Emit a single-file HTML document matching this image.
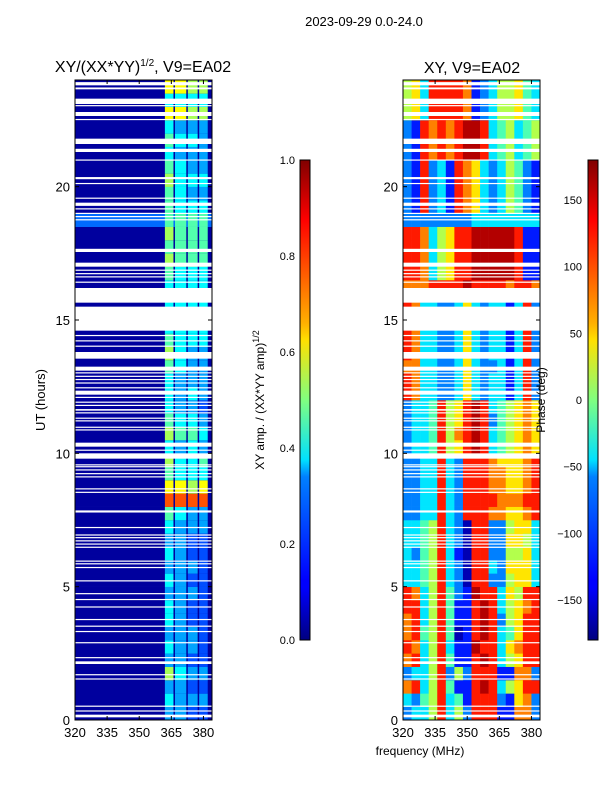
<!DOCTYPE html>
<html><head><meta charset="utf-8"><style>
html,body{margin:0;padding:0;background:#fff;}
svg text{font-family:"Liberation Sans",sans-serif;fill:#000;}
</style></head><body>
<svg id="fig" width="600" height="800" xmlns="http://www.w3.org/2000/svg">
<defs>
<linearGradient id="jetg" x1="0" y1="1" x2="0" y2="0">
<stop offset="0" stop-color="#000080"/><stop offset="0.11" stop-color="#0000ff"/><stop offset="0.125" stop-color="#0000ff"/>
<stop offset="0.34" stop-color="#0080ff"/><stop offset="0.375" stop-color="#00e0ff"/><stop offset="0.5" stop-color="#80ff80"/>
<stop offset="0.625" stop-color="#ffe000"/><stop offset="0.66" stop-color="#ffb000"/><stop offset="0.875" stop-color="#ff0000"/><stop offset="1" stop-color="#800000"/>
</linearGradient>
</defs>
<text x="364" y="26" font-size="13" text-anchor="middle">2023-09-29 0.0-24.0</text>
<text x="143" y="72" font-size="16" text-anchor="middle">XY/(XX*YY)<tspan font-size="10" dy="-6">1/2</tspan><tspan dy="6">, V9=EA02</tspan></text>
<text x="472" y="73" font-size="16" text-anchor="middle">XY, V9=EA02</text>
<g id="left"></g>
<g id="right"></g>
<g id="frames"></g>
<text transform="translate(45,400) rotate(-90)" font-size="13" text-anchor="middle">UT (hours)</text>
<text x="420" y="755" font-size="12" text-anchor="middle">frequency (MHz)</text>
<rect x="300" y="160" width="10" height="480" fill="url(#jetg)" stroke="#000" stroke-width="1"/>
<rect x="588" y="160" width="10" height="480" fill="url(#jetg)" stroke="#000" stroke-width="1"/>
<text transform="translate(264,400) rotate(-90)" font-size="12" text-anchor="middle">XY amp. / (XX*YY amp)<tspan font-size="9" dy="-5">1/2</tspan></text>
<text transform="translate(545,400) rotate(-90)" font-size="12" text-anchor="middle">Phase (deg)</text>
</svg>
<script>
const NS="http://www.w3.org/2000/svg";
// ---- data ----
const freqMin=320, freqMax=384, tMin=0, tMax=24, rowHours=0.5;
const xTicks=[320,335,350,365,380];
const yTicks=[0,5,10,15,20];
const ampTicks=[0.0,0.2,0.4,0.6,0.8,1.0];
const phaseTicks=[-150,-100,-50,0,50,100,150];
const stripeEdges=[[362,366],[366.7,372],[372.7,377.3],[378,382]];
const ampBg=[0,0,0,0,0,0,0,0,0,0,0,0,0,0,0,0,0,0,0,0,0,0,0,0,0,0,0,0,0,0,0,0,0,0,0,0,0,2,0,0,0,0,0,0,0,0,0,0];
const ampRows=["3322","4333","3322","6433","3322","4332","3332","4322","4322","3332","4322","3332","4322","3322","4333","5433","9999","7767","5444","6445","4343","6554","5443","4332","4343","4333","5433","6433","5444","4444","4444","4444","4444","5444","6555","5555","6555","5555","5444","5433","6444","5433","4333","5443","4333","7766","4444","7766"];
const phaseRows=[
"2335835288811772","3245834188821672","7835841189835688","2335825288811772",
"7835841189835688","8735831198836788","7845840189834688","7835841189825688",
"8835841189835678","8735842198836588","3345832088225663","3345832088326663",
"3245831088225563","3345832088226653","3345832088225663","2233832888776678",
"2233832888877788","2233832888776678","2233832888776678","2233832888766678",
"2334856898345676","2334857898345676","2334856898245676","2334856898345676",
"8733223632331382","8733223632331382","7733223632231382","8733223632331382",
"8733223632331382","8733223632331382","8733223632331382","8733223632331382",
"7778888988887887","8873568899999811","8873568899999811","8873568899999811",
"8873568899999811","2222222233333333","2182318763235421","2182318763235421",
"2182318763235421","2182318763235421","2187878998345345","2187878998345345",
"2187878998345345","5638888712355643","5638888712355643","5638888712355643"];
const blanks=[[23.8,23.92],[23.65,23.72],[23.1,23.3],[23.02,23.06],[22.65,22.8],[22.5,22.54],[21.6,21.8],[21.3,21.42],[20.98,21.02],[20.28,20.36],[20.1,20.14],[19.55,19.59],[19.28,19.4],[19.15,19.19],[18.98,19.02],[18.86,18.9],[18.74,18.78],[17.55,17.67],[17.0,17.15],[16.85,16.89],[16.72,16.76],[16.6,16.64],[16.4,16.44],[15.65,16.2],[14.6,15.5],[14.4,14.44],[14.2,14.24],[14.0,14.04],[13.55,13.8],[13.1,13.25],[13.0,13.04],[12.87,12.91],[12.75,12.79],[12.62,12.66],[12.44,12.48],[12.2,12.35],[12.08,12.12],[11.9,11.94],[11.78,11.82],[11.6,11.66],[11.5,11.54],[11.3,11.34],[11.2,11.24],[10.96,11.0],[10.86,10.9],[10.25,10.4],[10.1,10.14],[9.8,10.0],[9.55,9.59],[9.48,9.52],[9.36,9.4],[9.22,9.26],[9.1,9.14],[8.65,8.69],[8.52,8.56],[7.78,7.86],[7.2,7.24],[6.92,6.96],[6.82,6.86],[6.7,6.74],[6.58,6.62],[6.46,6.5],[5.94,5.98],[5.84,5.88],[5.7,5.74],[5.2,5.24],[4.72,4.76],[4.5,4.54],[4.22,4.26],[3.75,3.79],[3.5,3.54],[3.3,3.34],[2.88,2.92],[2.32,2.36],[2.1,2.2],[1.68,1.72],[1.52,1.56],[0.5,0.54],[0.32,0.36],[0.1,0.2]];
// ---- geometry ----
const yTop=80,yBot=720;
const panels={left:75,right:403}, pw=137;
const yOf=t=>yBot-(t-tMin)/(tMax-tMin)*(yBot-yTop);
const xOf=(x0,f)=>x0+(f-freqMin)/(freqMax-freqMin)*pw;
function jet(v){const c=a=>Math.round(255*Math.max(0,Math.min(1,a)));
 return `rgb(${c(1.5-Math.abs(4*v-3))},${c(1.5-Math.abs(4*v-2))},${c(1.5-Math.abs(4*v-1))})`;}
function mk(tag,attrs,parent){const e=document.createElementNS(NS,tag);for(const k in attrs)e.setAttribute(k,attrs[k]);parent.appendChild(e);return e;}
const L=document.getElementById('left'), R=document.getElementById('right'), F=document.getElementById('frames');
ampRows.forEach((row,i)=>{
 const t0=i*rowHours,y1=yOf(t0+rowHours),h=yOf(t0)-y1;
 let r=mk('rect',{x:panels.left,y:y1,width:pw,height:h+0.3,fill:jet(0.03+ampBg[i]*0.1)},L);
 
 
 stripeEdges.forEach((se,j)=>{
  const x1=xOf(panels.left,se[0]),x2=xOf(panels.left,se[1]);
  let s=mk('rect',{x:x1,y:y1,width:x2-x1,height:h+0.3,fill:jet(0.03+(+row[j])*0.085)},L);
  
  
 });
});
const ncol=16, colW=(freqMax-freqMin)/ncol;
phaseRows.forEach((row,i)=>{
 const t0=i*rowHours,y1=yOf(t0+rowHours),h=yOf(t0)-y1;
 for(let j=0;j<ncol;j++){
  const x1=xOf(panels.right,freqMin+j*colW),x2=xOf(panels.right,freqMin+(j+1)*colW);
  let c=mk('rect',{x:x1,y:y1,width:x2-x1+0.3,height:h+0.3,fill:jet(((+row[j])+0.5)/10)},R);
  
  
 }
});
[[L,panels.left],[R,panels.right]].forEach(([g,x0])=>{
 blanks.forEach(b=>{
  const y1=yOf(b[1]),y2=yOf(b[0]);
  let w=mk('rect',{x:x0,y:y1,width:pw,height:Math.max(1.2,y2-y1),fill:'#fff'},g);
  
  
 });
});
[['left',panels.left],['right',panels.right]].forEach(([nm,x0])=>{
 let fr=mk('rect',{x:x0,y:yTop,width:pw,height:yBot-yTop,fill:'none',stroke:'#000','stroke-width':1},F);
 
 
 xTicks.forEach(f=>{
  const x=xOf(x0,f);
  mk('line',{x1:x,x2:x,y1:yBot,y2:yBot-4,stroke:'#000'},F);
  mk('line',{x1:x,x2:x,y1:yTop,y2:yTop+4,stroke:'#000'},F);
  let t=mk('text',{x:x,y:yBot+17,'font-size':13,'text-anchor':'middle'},F);
  t.textContent=f;
  
  
 });
 yTicks.forEach(v=>{
  const y=yOf(v);
  mk('line',{x1:x0,x2:x0+4,y1:y,y2:y,stroke:'#000'},F);
  mk('line',{x1:x0+pw,x2:x0+pw-4,y1:y,y2:y,stroke:'#000'},F);
  let t=mk('text',{x:x0-5,y:y+5,'font-size':13,'text-anchor':'end'},F);
  t.textContent=v;
  
  
 });
});
ampTicks.forEach(v=>{
 const y=640-v*480;
 mk('line',{x1:300,x2:304,y1:y,y2:y,stroke:'#000'},F);
 let t=mk('text',{x:295,y:y+4,'font-size':11,'text-anchor':'end'},F);
 t.textContent=v.toFixed(1);
 
 
});
phaseTicks.forEach(v=>{
 const y=640-(v+180)/360*480;
 mk('line',{x1:588,x2:598,y1:y,y2:y,stroke:'#000'},F);
 let t=mk('text',{x:582,y:y+4,'font-size':11,'text-anchor':'end'},F);
 t.textContent=v<0?'\u2212'+(-v):String(v);
 
 
});
</script>
</body></html>
